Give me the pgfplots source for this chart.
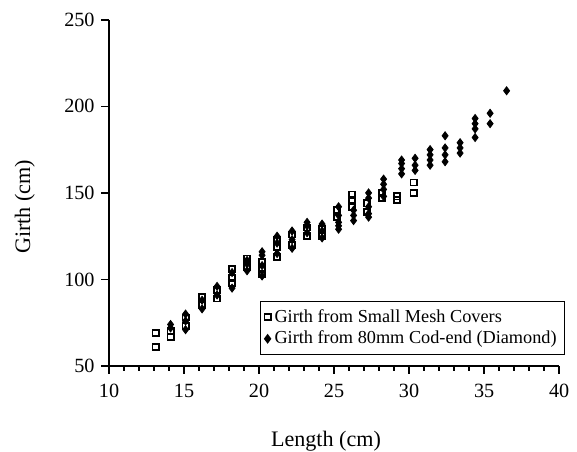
\documentclass[border=0pt]{standalone}
\usepackage{pgfplots}
\pgfplotsset{compat=1.18}
\usepackage{fontspec}
\setmainfont{Liberation Serif}
\begin{document}
\begin{tikzpicture}
\path[use as bounding box] (-56.7pt,-44.7pt) rectangle (243.3pt,190.3pt);
\begin{axis}[
  at={(0,0)}, anchor=south west,
  scale only axis,
  width=234pt, height=180pt,
  xmin=10, xmax=40, ymin=50, ymax=250,
  axis lines*=left,
  axis line style={line width=1pt, -},
  xtick={10,15,...,40},
  minor xtick={11,12,13,14,16,17,18,19,21,22,23,24,26,27,28,29,31,32,33,34,36,37,38,39},
  ytick={50,100,...,250},
  tick align=outside,
  major tick length=4pt,
  minor tick length=2.5pt,
  tick style={black, line width=0.8pt},
  /pgf/number format/assume math mode=true,
  tick label style={font=\fontsize{10.5}{12}\selectfont},
  xticklabel style={yshift=-2pt},
  xlabel={Length (cm)},
  ylabel={Girth (cm)},
  label style={font=\fontsize{11.5}{13}\selectfont},
  xlabel style={at={(axis description cs:0.482,-0.217)}, anchor=center},
  ylabel style={at={(axis description cs:-0.187,0.46)}, anchor=center},
  legend style={at={(1.013,0.032)}, anchor=south east, draw=black, line width=0.6pt,
    font=\fontsize{9.5}{11}\selectfont, row sep=-1pt, inner sep=2pt},
  legend cell align=left,
  clip=false,
]
\addplot[only marks, mark=square, mark size=1.6pt, mark options={line width=0.9pt, black}]
coordinates {
(13.1,69)(13.1,61)
(14.1,67)(14.1,70)
(15.1,73)(15.1,78)
(16.2,85)(16.2,90)
(17.2,89)(17.2,94)
(18.2,98)(18.2,101)(18.2,106)
(19.2,112)(19.2,107)
(20.2,106)(20.2,110)(20.2,103)
(21.2,113)(21.2,119)(21.2,123)
(22.2,120)(22.2,126)
(23.2,125)(23.2,130)
(24.2,125)(24.2,129)
(25.2,136)(25.2,140)
(26.2,142)(26.2,146)(26.2,149)
(27.2,144)(27.2,139)
(28.2,147)(28.2,150)
(29.2,146)(29.2,148)
(30.3,150)(30.3,156)
};
\addlegendentry{Girth from Small Mesh Covers}
\addplot[only marks, mark=diamond*, mark size=2.1pt, mark options={black}]
coordinates {
(14.1,72)(14.1,74)
(15.1,71)(15.1,76)(15.1,80)
(16.2,83)(16.2,88)
(17.2,91)(17.2,96)
(18.2,95)(18.2,104)
(19.2,105)(19.2,109)(19.2,111)
(20.2,102)(20.2,108)(20.2,114)(20.2,116)
(21.2,115)(21.2,121)(21.2,125)
(22.2,118)(22.2,123)(22.2,128)
(23.2,127)(23.2,131)(23.2,133)
(24.2,124)(24.2,128)(24.2,132)
(25.3,129)(25.3,131)(25.3,133)(25.3,137)(25.3,142)
(26.3,134)(26.3,137)(26.3,140)
(27.3,136)(27.3,138)(27.3,142)(27.3,147)(27.3,150)
(28.3,148)(28.3,152)(28.3,155)(28.3,158)
(29.5,161)(29.5,164)(29.5,167)(29.5,169)
(30.4,163)(30.4,166)(30.4,170)
(31.4,166)(31.4,169)(31.4,172)(31.4,175)
(32.4,168)(32.4,172)(32.4,176)(32.4,183)
(33.4,173)(33.4,176)(33.4,179)
(34.4,182)(34.4,187)(34.4,190)(34.4,193)
(35.4,190)(35.4,196)
(36.5,209)
};
\addlegendentry{Girth from 80mm Cod-end (Diamond)}
\end{axis}
\end{tikzpicture}
\end{document}
